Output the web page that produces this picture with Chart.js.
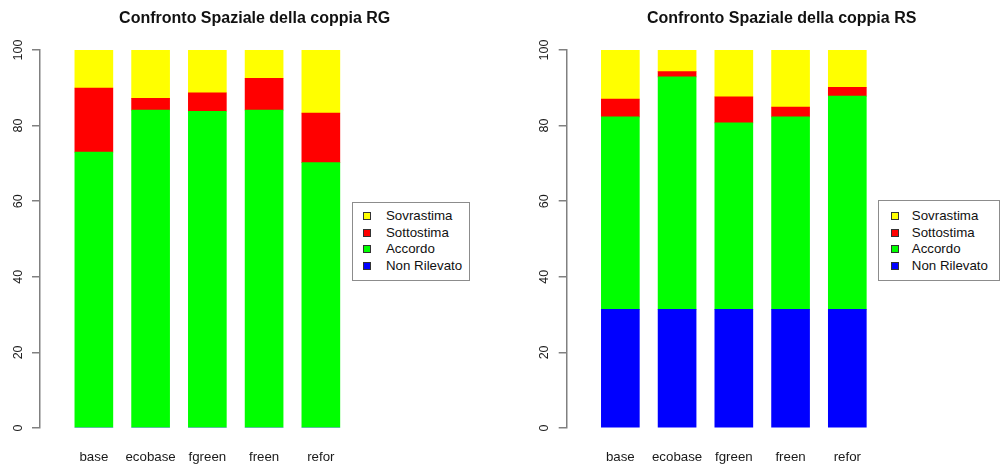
<!DOCTYPE html>
<html>
<head>
<meta charset="utf-8">
<script src="https://cdn.jsdelivr.net/npm/chart.js@4.4.1/dist/chart.umd.min.js"></script>
<style>
  html, body { margin: 0; padding: 0; background: #ffffff; }
  body { position: relative; width: 1000px; height: 468px; overflow: hidden;
         font-family: "Liberation Sans", Arial, Helvetica, sans-serif; color: #111; }
  .panel { position: absolute; top: 0; width: 500px; height: 468px; }
  .panel canvas { position: absolute; left: 0; top: 0; }
  .title { position: absolute; width: 400px; text-align: center; font-weight: bold;
           font-size: 16px; line-height: 20px; top: 8px; white-space: nowrap; }
  .legend { position: absolute; box-sizing: border-box; border: 1px solid #8c8c8c; background: #fff; }
  .legend .row { position: absolute; left: 0; height: 16px; line-height: 16px;
                 font-size: 13.3px; white-space: nowrap; }
  .legend .sw { position: absolute; top: 4px; width: 8px; height: 8px; box-sizing: border-box;
                border: 1px solid #333; }
  .legend .lbl { position: absolute; top: 0; }
</style>
</head>
<body>

<div class="panel" style="left:0px"><canvas id="chartRG" width="500" height="468"></canvas></div>
<div class="panel" style="left:500px"><canvas id="chartRS" width="500" height="468"></canvas></div>

<script>
// Categories, series and tick labels
const categories = ['base', 'ecobase', 'fgreen', 'freen', 'refor'];
const seriesNames = ['Non Rilevato', 'Accordo', 'Sottostima', 'Sovrastima'];
const seriesColors = ['#0000ff', '#00ff00', '#ff0000', '#ffff00'];
const yTickValues = [0, 20, 40, 60, 80, 100];

// Coppia RG (percentuali)
const rgNonRilevato = [0, 0, 0, 0, 0];
const rgAccordo     = [73.0, 84.1, 83.8, 84.1, 70.2];
const rgSottostima  = [16.9, 3.1, 4.9, 8.4, 13.1];
const rgSovrastima  = [10.1, 12.8, 11.3, 7.5, 16.7];

// Coppia RS (percentuali)
const rsNonRilevato = [31.4, 31.4, 31.4, 31.4, 31.4];
const rsAccordo     = [50.9, 61.5, 49.3, 50.9, 56.4];
const rsSottostima  = [4.7, 1.4, 6.9, 2.6, 2.3];
const rsSovrastima  = [13.0, 5.7, 12.4, 15.1, 9.9];

const FONT = '"Liberation Sans", Arial, Helvetica, sans-serif';
const AXIS_GRAY = '#808080';

function makePanel(canvasId, title, series, layout) {
  const datasets = series.map((vals, k) => ({
    label: seriesNames[k],
    data: vals.map((v, i) => ({ x: i, y: v })),
    backgroundColor: seriesColors[k],
    borderWidth: 0,
    barThickness: 38
  }));

  const chart = new Chart(document.getElementById(canvasId), {
    type: 'bar',
    data: { datasets },
    options: {
      responsive: false,
      animation: false,
      devicePixelRatio: 1,
      layout: { padding: { top: 50, left: 0, right: 0, bottom: 0 } },
      plugins: {
        legend: { display: false },
        title: { display: false },
        tooltip: { enabled: false }
      },
      scales: {
        x: {
          type: 'linear',
          stacked: true,
          offset: false,
          min: layout.xMin,
          max: layout.xMax,
          grid: { display: false, offset: false },
          border: { display: false },
          afterBuildTicks: s => { s.ticks = categories.map((c, i) => ({ value: i })); },
          afterFit: s => { s.height = 40; },
          ticks: {
            callback: v => categories[v],
            autoSkip: false,
            minRotation: 0,
            maxRotation: 0,
            padding: 13,
            color: '#1a1a1a',
            font: { family: FONT, size: 13.3 }
          }
        },
        y: {
          type: 'linear',
          stacked: true,
          min: 0,
          max: 100,
          afterBuildTicks: s => { s.ticks = yTickValues.map(v => ({ value: v })); },
          afterFit: s => { s.width = layout.axisX; },
          grid: { drawOnChartArea: false, drawTicks: true, tickLength: 8, color: AXIS_GRAY, lineWidth: 1.5 },
          border: { display: true, color: AXIS_GRAY, width: 1.5 },
          ticks: {
            minRotation: 90,
            maxRotation: 90,
            crossAlign: 'center',
            padding: 3.5,
            color: '#1a1a1a',
            font: { family: FONT, size: 12.5 }
          }
        }
      }
    }
  });

  // Title over the plot
  const panel = document.getElementById(canvasId).parentElement;
  const t = document.createElement('div');
  t.className = 'title';
  t.textContent = title;
  t.style.left = (layout.titleX - 200) + 'px';
  panel.appendChild(t);

  // Legend box, top entry is the top of the stack
  const lg = document.createElement('div');
  lg.className = 'legend';
  lg.style.left = layout.legend.left + 'px';
  lg.style.top = layout.legend.top + 'px';
  lg.style.width = layout.legend.width + 'px';
  lg.style.height = layout.legend.height + 'px';
  const order = seriesNames.map((n, k) => k).reverse();
  order.forEach((k, r) => {
    const row = document.createElement('div');
    row.className = 'row';
    row.style.top = (layout.legend.rowTop + r * 16.7) + 'px';
    const sw = document.createElement('div');
    sw.className = 'sw';
    sw.style.left = layout.legend.swatchX + 'px';
    sw.style.background = chart.data.datasets[k].backgroundColor;
    const lb = document.createElement('div');
    lb.className = 'lbl';
    lb.style.left = layout.legend.textX + 'px';
    lb.textContent = chart.data.datasets[k].label;
    row.appendChild(sw);
    row.appendChild(lb);
    lg.appendChild(row);
  });
  panel.appendChild(lg);
  return chart;
}

makePanel('chartRG', 'Confronto Spaziale della coppia RG',
  [rgNonRilevato, rgAccordo, rgSottostima, rgSovrastima],
  { axisX: 40, xMin: -0.949, xMax: 7.157, titleX: 254.7,
    legend: { left: 351.5, top: 201.5, width: 118, height: 79, rowTop: 5.5, swatchX: 10.5, textX: 33.5 } });

makePanel('chartRS', 'Confronto Spaziale della coppia RS',
  [rsNonRilevato, rsAccordo, rsSottostima, rsSovrastima],
  { axisX: 66.7, xMin: -0.9455, xMax: 6.691, titleX: 281.7,
    legend: { left: 378.3, top: 200, width: 122, height: 80.5, rowTop: 7, swatchX: 11.5, textX: 32.5 } });
</script>
</body>
</html>
